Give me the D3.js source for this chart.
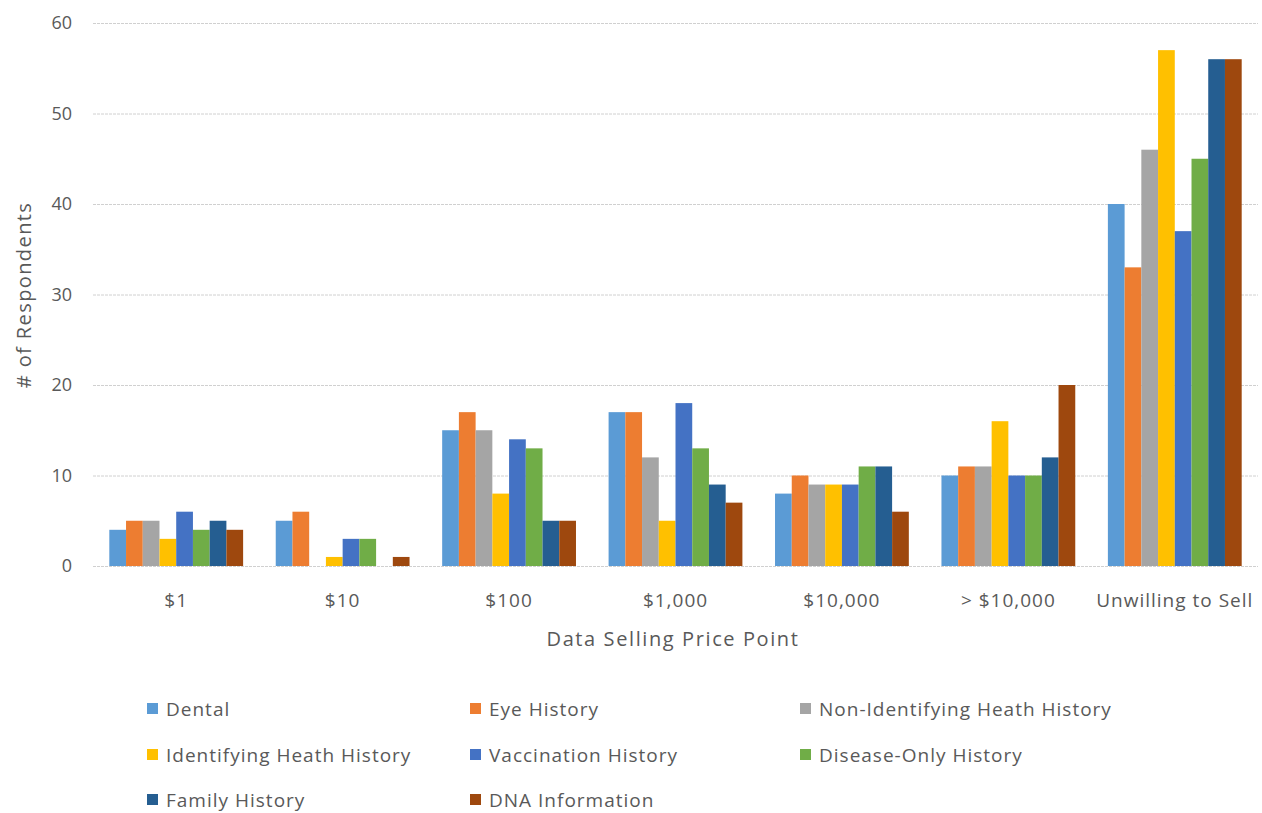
<!DOCTYPE html>
<html>
<head>
<meta charset="utf-8">
<script src="https://cdn.jsdelivr.net/npm/d3@7"></script>
<style>
  body { margin: 0; background: #fff; }
  text { font-family: "Open Sans", "Noto Sans", sans-serif; fill: #595959; }
</style>
</head>
<body>
<div id="container"></div>
<script>
var categories = ["$1", "$10", "$100", "$1,000", "$10,000", "> $10,000", "Unwilling to Sell"];
var seriesNames = ["Dental", "Eye History", "Non-Identifying Heath History", "Identifying Heath History",
                   "Vaccination History", "Disease-Only History", "Family History", "DNA Information"];
var dental      = [4, 5, 15, 17, 8, 10, 40];
var eye         = [5, 6, 17, 17, 10, 11, 33];
var nonIdent    = [5, 0, 15, 12, 9, 11, 46];
var ident       = [3, 1, 8, 5, 9, 16, 57];
var vaccination = [6, 3, 14, 18, 9, 10, 37];
var diseaseOnly = [4, 3, 13, 13, 11, 10, 45];
var family      = [5, 0, 5, 9, 11, 12, 56];
var dna         = [4, 1, 5, 7, 6, 20, 56];
var yTicks = [0, 10, 20, 30, 40, 50, 60];
var colors = ["#5b9bd5", "#ed7d31", "#a5a5a5", "#ffc000", "#4472c4", "#70ad47", "#255e91", "#9e480e"];

var seriesValues = [dental, eye, nonIdent, ident, vaccination, diseaseOnly, family, dna];

var width = 1262, height = 813;
var plot = {left: 93, right: 1258, top: 23, bottom: 566};

var svg = d3.select("#container").append("svg")
    .attr("width", width)
    .attr("height", height);

var x0 = d3.scaleBand()
    .domain(categories)
    .range([plot.left, plot.right])
    .paddingInner(0.196)
    .paddingOuter(0.098);

var x1 = d3.scaleBand()
    .domain(d3.range(seriesNames.length))
    .range([0, x0.bandwidth()]);

var y = d3.scaleLinear()
    .domain([0, 60])
    .range([plot.bottom, plot.top]);

// gridlines
svg.append("g").selectAll("line")
    .data(yTicks)
  .enter().append("line")
    .attr("x1", plot.left)
    .attr("x2", plot.right)
    .attr("y1", function(d) { return y(d) + 0.5; })
    .attr("y2", function(d) { return y(d) + 0.5; })
    .attr("stroke", "#d0d0d0")
    .attr("stroke-width", 1)
    .attr("stroke-dasharray", "3,1");

// y tick labels
svg.append("g").selectAll("text")
    .data(yTicks)
  .enter().append("text")
    .attr("x", 72)
    .attr("y", function(d) { return y(d); })
    .attr("dy", "0.35em")
    .attr("text-anchor", "end")
    .style("font-size", "18px")
    .text(function(d) { return d; });

// bars
var groups = svg.append("g").selectAll("g")
    .data(categories)
  .enter().append("g")
    .attr("transform", function(c) { return "translate(" + x0(c) + ",0)"; });

groups.selectAll("rect")
    .data(function(c, ci) {
      return seriesValues.map(function(s, si) { return {s: si, v: s[ci]}; });
    })
  .enter().append("rect")
    .attr("x", function(d) { return x1(d.s); })
    .attr("width", x1.bandwidth())
    .attr("y", function(d) { return y(d.v); })
    .attr("height", function(d) { return y(0) - y(d.v); })
    .attr("fill", function(d) { return colors[d.s]; });

// x labels
svg.append("g").selectAll("text")
    .data(categories)
  .enter().append("text")
    .attr("x", function(c) { return x0(c) + x0.bandwidth() / 2; })
    .attr("y", 607)
    .attr("text-anchor", "middle")
    .style("font-size", "19px")
    .style("letter-spacing", "1px")
    .text(function(c) { return c; });

// axis titles
svg.append("text")
    .attr("x", 673)
    .attr("y", 646)
    .attr("text-anchor", "middle")
    .style("font-size", "20px")
    .style("letter-spacing", "1.6px")
    .text("Data Selling Price Point");

svg.append("text")
    .attr("transform", "translate(31,295) rotate(-90)")
    .attr("text-anchor", "middle")
    .style("font-size", "20px")
    .style("letter-spacing", "1.4px")
    .text("# of Respondents");

// legend
var legendCols = [147, 470, 800];
var legendRows = [709, 755, 800];
var legend = svg.append("g").selectAll("g")
    .data(seriesNames)
  .enter().append("g")
    .attr("transform", function(d, i) {
      return "translate(" + legendCols[i % 3] + "," + legendRows[Math.floor(i / 3)] + ")";
    });

legend.append("rect")
    .attr("x", 0)
    .attr("y", -6)
    .attr("width", 11)
    .attr("height", 11)
    .attr("fill", function(d, i) { return colors[i]; });

legend.append("text")
    .attr("x", 19)
    .attr("y", 0)
    .attr("dy", "0.35em")
    .style("font-size", "19px")
    .style("letter-spacing", "1px")
    .text(function(d) { return d; });
</script>
</body>
</html>
